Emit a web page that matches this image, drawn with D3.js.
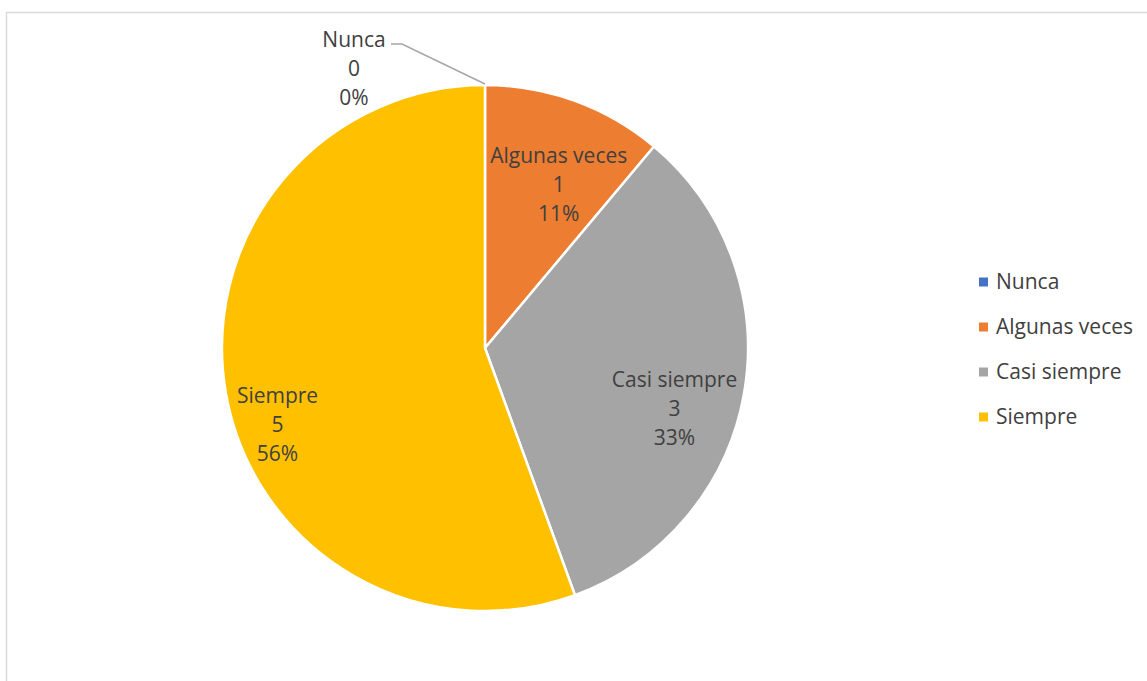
<!DOCTYPE html>
<html>
<head>
<meta charset="utf-8">
<script src="https://cdn.jsdelivr.net/npm/d3@7"></script>
<style>
  html, body { margin: 0; padding: 0; background: #ffffff; }
  svg { display: block; }
  text { font-family: "Open Sans", "Noto Sans", "Liberation Sans", sans-serif; fill: #404040; }
</style>
</head>
<body>
<svg id="chart" width="1147" height="681"></svg>
<script>
// Survey responses
const categories = ["Nunca", "Algunas veces", "Casi siempre", "Siempre"];
const counts = [0, 1, 3, 5];
const colors = ["#4472c4", "#ed7d31", "#a5a5a5", "#ffc000"];

// Label nudges (px) relative to the slice's label anchor
const labelNudgeX = [0, 9, 3, -21];
const labelNudgeY = [0, 15, 28, 44];

const width = 1147, height = 681;
const cx = 485, cy = 348, radius = 263;

const svg = d3.select("#chart");

// Chart area frame
svg.append("rect")
  .attr("x", 6.5).attr("y", 12.5)
  .attr("width", 1160).attr("height", 700)
  .attr("fill", "none")
  .attr("stroke", "#d9d9d9")
  .attr("stroke-width", 1.5);

const total = d3.sum(counts);
const data = categories.map((c, i) => ({ name: c, value: counts[i], color: colors[i], i }));

const pie = d3.pie().sort(null).value(d => d.value);
const arcs = pie(data);
const arc = d3.arc().innerRadius(0).outerRadius(radius);
const labelArc = d3.arc().innerRadius(radius * 0.72).outerRadius(radius * 0.72);

const g = svg.append("g").attr("transform", `translate(${cx},${cy})`);

g.selectAll("path.slice")
  .data(arcs)
  .join("path")
  .attr("class", "slice")
  .attr("d", arc)
  .attr("fill", d => d.data.color)
  .attr("stroke", "#ffffff")
  .attr("stroke-width", 2.5)
  .attr("stroke-linejoin", "round");

const fmtPct = v => Math.round(v / total * 100) + "%";
const lineH = 29;
const fontSize = 21;

arcs.forEach(a => {
  const lines = [a.data.name, String(a.data.value), fmtPct(a.data.value)];
  let x, y;
  if (a.data.value === 0) {
    // Zero slice: label outside the pie with a leader line to the edge
    const ang = a.startAngle;
    const px = Math.sin(ang) * radius, py = -Math.cos(ang) * radius;
    x = px - 131; y = py - 45;
    const lx = x + 37, ly = y + 4;
    g.append("polyline")
      .attr("points", [[lx, ly], [lx + 11, ly], [px, py - 1]].map(p => p.join(",")).join(" "))
      .attr("fill", "none")
      .attr("stroke", "#a6a6a6")
      .attr("stroke-width", 1.5);
  } else {
    const c = labelArc.centroid(a);
    x = c[0] + labelNudgeX[a.data.i];
    y = c[1] + labelNudgeY[a.data.i] - lineH;
  }
  const t = g.append("text")
    .attr("text-anchor", "middle")
    .attr("font-size", fontSize);
  lines.forEach((l, k) => {
    t.append("tspan")
      .attr("x", x)
      .attr("y", y + k * lineH)
      .attr("dy", "0.35em")
      .text(l);
  });
});

// Legend
const legend = svg.append("g").attr("transform", "translate(979,282)");
const item = legend.selectAll("g")
  .data(data)
  .join("g")
  .attr("transform", (d, i) => `translate(0,${i * 45})`);
item.append("rect")
  .attr("x", 0).attr("y", -4.5)
  .attr("width", 9).attr("height", 9)
  .attr("fill", d => d.color);
item.append("text")
  .attr("x", 17).attr("y", 0)
  .attr("dy", "0.35em")
  .attr("font-size", fontSize)
  .text(d => d.name);
</script>
</body>
</html>
